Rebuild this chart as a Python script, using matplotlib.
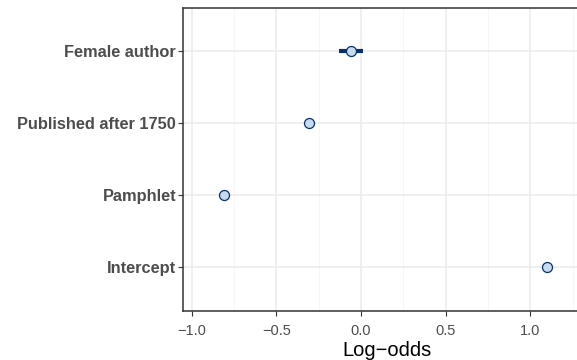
import matplotlib
matplotlib.use("Agg")
import matplotlib.pyplot as plt
import numpy as np

plt.rcParams['font.family'] = ['Liberation Sans', 'DejaVu Sans']

terms = ['Intercept', 'Pamphlet', 'Published after 1750', 'Female author']
estimate = [1.10, -0.81, -0.31, -0.06]
lower = [1.085, -0.825, -0.325, -0.13]
upper = [1.115, -0.795, -0.295, 0.01]
xticks = [-1.0, -0.5, 0.0, 0.5, 1.0]
xticklabels = ['\u22121.0', '\u22120.5', '0.0', '0.5', '1.0']
xminor = [-0.75, -0.25, 0.25, 0.75, 1.25]

fig = plt.figure(figsize=(5.77, 3.6), dpi=100)
# panel runs off the right edge of the picture, like the reference
ax = fig.add_axes([183 / 577, 49.5 / 360, (592 - 183) / 577, (310.5 - 8.3) / 360])

y = np.arange(1, len(terms) + 1)

# grid
for xm in xminor:
    ax.axvline(xm, color='#F5F5F5', linewidth=0.6, zorder=0)
for xv in xticks:
    ax.axvline(xv, color='#EBEBEB', linewidth=1.1, zorder=0)
for yv in y:
    ax.axhline(yv, color='#EBEBEB', linewidth=1.1, zorder=0)

ax.hlines(y, lower, upper, color='#08306B', linewidth=3, zorder=2)
ax.plot(estimate, y, 'o', markersize=7.2, markerfacecolor='#C6DBEF',
        markeredgecolor='#08306B', markeredgewidth=0.9, linestyle='none', zorder=3)

ax.set_xlim(-1.052, 1.365)
ax.set_ylim(0.4, 4.6)
ax.set_xticks(xticks)
ax.set_xticklabels(xticklabels, fontsize=10.5)
ax.set_yticks(y)
ax.set_yticklabels(terms, fontweight='bold', fontsize=11.8)

ax.tick_params(axis='both', length=3.5, width=0.8, color='#333333',
               labelcolor='#4D4D4D')
ax.tick_params(axis='y', pad=1.5)
ax.tick_params(axis='x', pad=6)

for s in ax.spines.values():
    s.set_color('#333333')
    s.set_linewidth(1.1)

ax.set_xlabel('Log\u2212odds', fontsize=14.5, color='black', labelpad=2.5)

fig.savefig('out.png', dpi=100)
